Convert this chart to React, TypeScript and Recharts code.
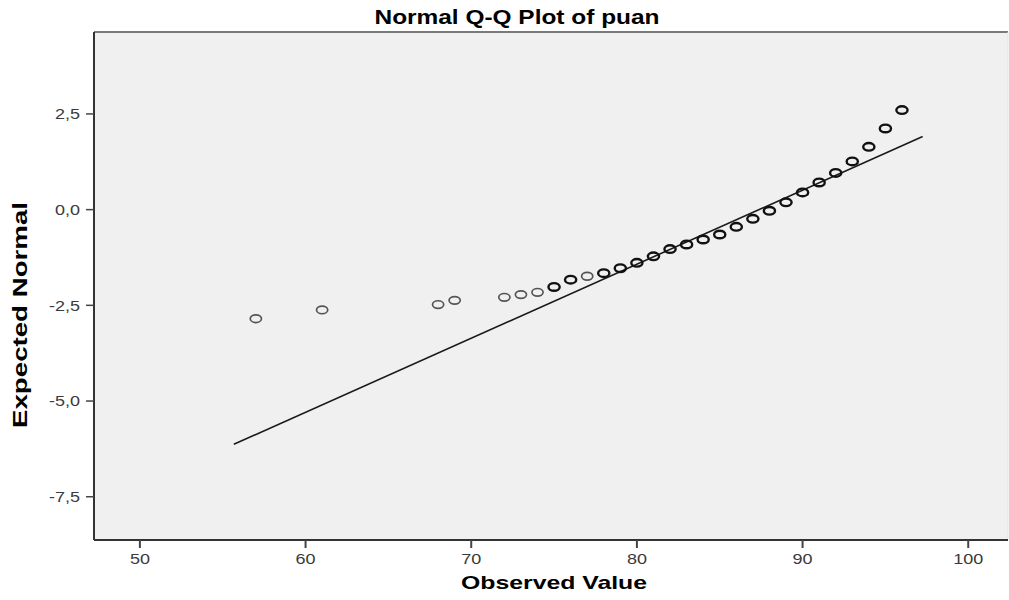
import React from "react";
import {
  ScatterChart,
  Scatter,
  XAxis,
  YAxis,
  CartesianGrid,
  ReferenceLine,
} from "recharts";

// Observed values with a single case (lighter markers)
const singleObserved = [57, 61, 68, 69, 72, 73, 74, 77];
const singleExpected = [-2.85, -2.62, -2.48, -2.37, -2.29, -2.22, -2.16, -1.74];

// Observed values with tied cases (darker markers)
const tiedObserved = [75, 76, 78, 79, 80, 81, 82, 83, 84, 85, 86, 87, 88, 89, 90, 91, 92, 93, 94, 95, 96];
const tiedExpected = [
  -2.02, -1.83, -1.66, -1.53, -1.39, -1.22, -1.03, -0.91, -0.78, -0.65, -0.45, -0.24, -0.03, 0.19,
  0.45, 0.71, 0.96, 1.26, 1.64, 2.12, 2.6,
];

// Reference normal line endpoints
const lineObserved = [55.67, 97.25];
const lineExpected = [-6.13, 1.91];

const xTicks = [50, 60, 70, 80, 90, 100];
const yTicks = [2.5, 0, -2.5, -5, -7.5];
const xDomain = [47.23, 102.4];
const yDomain = [-8.63, 4.64];

const title = "Normal Q-Q Plot of puan";
const xTitle = "Observed Value";
const yTitle = "Expected Normal";

const singleData = singleObserved.map((x, i) => ({ x, y: singleExpected[i] }));
const tiedData = tiedObserved.map((x, i) => ({ x, y: tiedExpected[i] }));
const lineData = lineObserved.map((x, i) => ({ x, y: lineExpected[i] }));

const FONT = "'Liberation Sans', Arial, sans-serif";

const fmt = (v: number) => v.toFixed(1).replace(".", ",");

const XTick = (props: any) => {
  const { x, y, payload } = props;
  return (
    <g transform={`translate(${x},${y})`}>
      <text x={0} y={0} dy="0.71em" textAnchor="middle" transform="scale(1.2,1)" fontFamily={FONT} fontSize={15} fill="#3a3a3a">
        {payload.value}
      </text>
    </g>
  );
};

const YTick = (props: any) => {
  const { x, y, payload } = props;
  return (
    <g transform={`translate(${x},${y})`}>
      <text x={0} y={0} dy="0.355em" textAnchor="end" transform="scale(1.2,1)" fontFamily={FONT} fontSize={15} fill="#3a3a3a">
        {fmt(payload.value)}
      </text>
    </g>
  );
};

const makeShape = (stroke: string, sw: number) => (props: any) => {
  const { cx, cy } = props;
  if (cx == null || cy == null) return <g />;
  return <ellipse cx={cx} cy={cy} rx={5.6} ry={3.8} fill="none" stroke={stroke} strokeWidth={sw} />;
};

const noShape = () => <g />;

export default function App() {
  return (
    <div style={{ position: "absolute", left: 0, top: 0, width: 1009, height: 600, background: "#fff" }}>
      <ScatterChart width={1009} height={600} margin={{ top: 32, right: 1, bottom: 0, left: 0 }}>
        <CartesianGrid horizontal={false} vertical={false} fill="#f0f0f0" />
        <XAxis
          type="number"
          dataKey="x"
          domain={xDomain}
          ticks={xTicks}
          allowDataOverflow
          height={60}
          tickSize={8}
          tickMargin={5}
          tick={<XTick />}
          axisLine={{ stroke: "#333", strokeWidth: 2 }}
          tickLine={{ stroke: "#444", strokeWidth: 2 }}
        />
        <YAxis
          type="number"
          dataKey="y"
          domain={yDomain}
          ticks={yTicks}
          allowDataOverflow
          width={94}
          tickSize={8}
          tickMargin={6}
          tick={<YTick />}
          axisLine={{ stroke: "#333", strokeWidth: 2 }}
          tickLine={{ stroke: "#444", strokeWidth: 1.5 }}
        />
        <ReferenceLine y={yDomain[1]} stroke="#7a7a7a" strokeWidth={2} ifOverflow="extendDomain" />
        <ReferenceLine x={xDomain[1]} stroke="#e2e2e2" strokeWidth={1} ifOverflow="extendDomain" />
        <Scatter
          data={lineData}
          line={{ stroke: "#1a1a1a", strokeWidth: 1.6 }}
          shape={noShape}
          isAnimationActive={false}
        />
        <Scatter data={singleData} shape={makeShape("#555555", 1.7)} isAnimationActive={false} />
        <Scatter data={tiedData} shape={makeShape("#111111", 2.4)} isAnimationActive={false} />
      </ScatterChart>
      <svg
        width={1009}
        height={600}
        style={{ position: "absolute", left: 0, top: 0, pointerEvents: "none" }}
      >
        <text
          x={517}
          y={24}
          textAnchor="middle"
          fontFamily={FONT}
          fontWeight="bold"
          fontSize={20}
          fill="#000"
          textLength={285}
          lengthAdjust="spacingAndGlyphs"
        >
          {title}
        </text>
        <text
          x={554}
          y={589}
          textAnchor="middle"
          fontFamily={FONT}
          fontWeight="bold"
          fontSize={19}
          fill="#000"
          textLength={186}
          lengthAdjust="spacingAndGlyphs"
        >
          {xTitle}
        </text>
        <text
          x={0}
          y={0}
          transform="translate(27,315) rotate(-90)"
          textAnchor="middle"
          fontFamily={FONT}
          fontWeight="bold"
          fontSize={21}
          fill="#000"
          textLength={226}
          lengthAdjust="spacingAndGlyphs"
        >
          {yTitle}
        </text>
      </svg>
    </div>
  );
}
